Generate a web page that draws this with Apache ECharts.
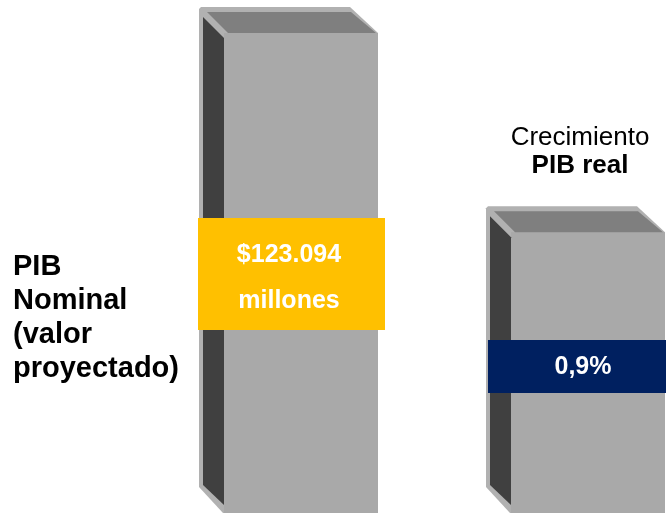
<!DOCTYPE html>
<html>
<head>
<meta charset="utf-8">
<script src="https://cdn.jsdelivr.net/npm/echarts@6/dist/echarts.min.js"></script>
<style>html,body{margin:0;padding:0;background:#fff}#c{width:666px;height:513px}</style>
</head>
<body>
<div id="c"></div>
<script>
// ---- data ----
const categories = ['PIB Nominal', 'Crecimiento PIB real'];
const barHeights = [100, 60.6];
const leftTitleLines = ['PIB', 'Nominal', '(valor', 'proyectado)'];
const rightTitleNormal = 'Crecimiento';
const rightTitleBold = 'PIB real';
const nominalLabelLines = ['$123.094', 'millones'];
const growthLabel = '0,9%';

const FONT = '"Liberation Sans", Arial, sans-serif';

function renderCube(params, api) {
  const i = api.value(0), v = api.value(1);
  const top = api.coord([i, v]);
  const base = api.coord([i, 0]);
  const band = api.size([1, 0])[0];
  const W = band * 0.6237;
  const L = top[0] - W / 2, T = top[1], R = L + W, B = base[1];
  return {
    type: 'group',
    children: [
      { type: 'polygon', shape: { points: [[L, T + 2], [L + 2, T], [L + 151, T], [R, T + 26], [R, B], [L + 24, B], [L, B - 26]] },
        style: { fill: '#b1b1b1' } },
      { type: 'rect', shape: { x: L + 25, y: T + 26, width: W - 25, height: B - T - 26 },
        style: { fill: '#a9a9a9' } },
      { type: 'polygon', shape: { points: [[L + 8, T + 5], [L + 152, T + 5], [R - 2, T + 26], [L + 29, T + 26]] },
        style: { fill: '#7f7f7f' } },
      { type: 'polygon', shape: { points: [[L + 4, T + 10], [L + 25, T + 31], [L + 25, B - 8], [L + 4, B - 28]] },
        style: { fill: '#404040' } }
    ]
  };
}

const graphics = [];
leftTitleLines.forEach((t, k) => {
  graphics.push({ type: 'text', x: 13, y: 267 + k * 34,
    style: { text: t, fill: '#000', font: 'bold 29px ' + FONT, textAlign: 'left', textVerticalAlign: 'middle' } });
});
graphics.push({ type: 'text', x: 580, y: 137.5,
  style: { text: rightTitleNormal, fill: '#000', font: '26px ' + FONT, textAlign: 'center', textVerticalAlign: 'middle' } });
graphics.push({ type: 'text', x: 580, y: 166,
  style: { text: rightTitleBold, fill: '#000', font: 'bold 26px ' + FONT, textAlign: 'center', textVerticalAlign: 'middle' } });
graphics.push({ type: 'rect', shape: { x: 198, y: 218, width: 187, height: 112 }, style: { fill: '#ffc000' }, z: 10 });
nominalLabelLines.forEach((t, k) => {
  graphics.push({ type: 'text', x: 289, y: 255.5 + k * 46, z: 11,
    style: { text: t, fill: '#fff', font: 'bold 25px ' + FONT, textAlign: 'center', textVerticalAlign: 'middle' } });
});
graphics.push({ type: 'rect', shape: { x: 488, y: 340, width: 180, height: 53 }, style: { fill: '#002060' }, z: 10 });
graphics.push({ type: 'text', x: 583, y: 367.5, z: 11,
  style: { text: growthLabel, fill: '#fff', font: 'bold 25px ' + FONT, textAlign: 'center', textVerticalAlign: 'middle' } });

const chart = echarts.init(document.getElementById('c'), null, { renderer: 'canvas' });
chart.setOption({
  animation: false,
  backgroundColor: '#fff',
  grid: { left: 145, width: 574, top: 7, bottom: 0, containLabel: false, outerBoundsMode: 'none' },
  xAxis: { type: 'category', data: categories, show: false },
  yAxis: { type: 'value', min: 0, max: 100, show: false },
  series: [{
    type: 'custom',
    renderItem: renderCube,
    data: barHeights.map((v, i) => [i, v]),
    encode: { x: 0, y: 1 },
    clip: false
  }],
  graphic: graphics
});
</script>
</body>
</html>
